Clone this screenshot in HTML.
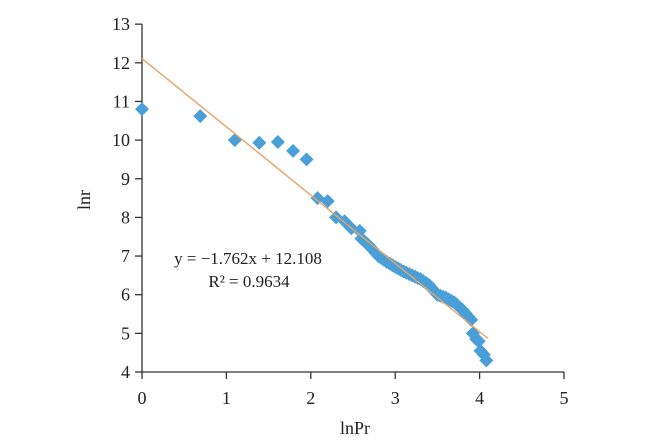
<!DOCTYPE html>
<html><head><meta charset="utf-8"><style>
html,body{margin:0;padding:0;background:#fff;}
svg{display:block;font-family:"Liberation Serif",serif;}
</style></head><body>
<svg id="s" width="650" height="446" viewBox="0 0 650 446" xmlns="http://www.w3.org/2000/svg">
<g stroke="#333" stroke-width="1.3" fill="none">
<line x1="142" y1="24" x2="142" y2="372"/>
<line x1="142" y1="372" x2="564" y2="372"/>
</g>
<g id="ticks" stroke="#333" stroke-width="1.3"></g>
<g id="lab" font-size="18" fill="#222"></g>
<text x="90" y="200" font-size="18" fill="#222" text-anchor="middle" transform="rotate(-90 90 200)">lnr</text>
<text x="355" y="434" font-size="18" fill="#222" text-anchor="middle">lnPr</text>
<g id="pts" fill="#4a9fd8"></g>
<line x1="142" y1="58.6" x2="488" y2="338.5" stroke="#e6a468" stroke-width="1.4"/>
<text x="248" y="264" font-size="17" fill="#222" text-anchor="middle">y = −1.762x + 12.108</text>
<text x="249" y="287" font-size="17" fill="#222" text-anchor="middle">R² = 0.9634</text>
</svg>
<script>
var ns="http://www.w3.org/2000/svg";
function px(x){return 142+84.4*x}function py(y){return 372-38.65*(y-4)}
var t=document.getElementById('ticks'),l=document.getElementById('lab');
function el(p,tag,a,txt){var e=document.createElementNS(ns,tag);for(var k in a)e.setAttribute(k,a[k]);if(txt!=null)e.textContent=txt;p.appendChild(e);}
for(var v=4;v<=13;v++){var y=py(v);el(t,'line',{x1:135,y1:y,x2:142,y2:y});el(l,'text',{x:130,y:y+6,'text-anchor':'end'},v);}
for(var v=0;v<=5;v++){var x=px(v);el(t,'line',{x1:x,y1:372,x2:x,y2:379});el(l,'text',{x:x,y:404,'text-anchor':'middle'},v);}
var P=[[0,10.8],[0.69,10.62],[1.1,10.0],[1.39,9.93],[1.61,9.95],[1.79,9.72],[1.95,9.5],[2.08,8.5],[2.2,8.42],[2.3,8.0],[2.4,7.9],[2.48,7.72],[2.58,7.65]];
var K=[[2.6,7.45],[2.7,7.25],[2.8,7.0],[2.9,6.85],[3.0,6.72],[3.1,6.6],[3.2,6.5],[3.3,6.4],[3.4,6.25],[3.5,6.0],[3.6,5.92],[3.7,5.8],[3.8,5.6],[3.9,5.35]];
for(var i=0;i<K.length-1;i++){for(var j=0;j<3;j++){var f=j/3;P.push([K[i][0]+(K[i+1][0]-K[i][0])*f,K[i][1]+(K[i+1][1]-K[i][1])*f]);}}
P.push([3.9,5.35],[3.92,5.0],[3.96,4.85],[3.99,4.8],[4.01,4.55],[4.05,4.45],[4.08,4.3]);
var g=document.getElementById('pts');
P.forEach(function(p){var x=px(p[0]),y=py(p[1]),r=7;el(g,'polygon',{points:(x)+','+(y-r)+' '+(x+r)+','+y+' '+x+','+(y+r)+' '+(x-r)+','+y});});
</script>
</body></html>
